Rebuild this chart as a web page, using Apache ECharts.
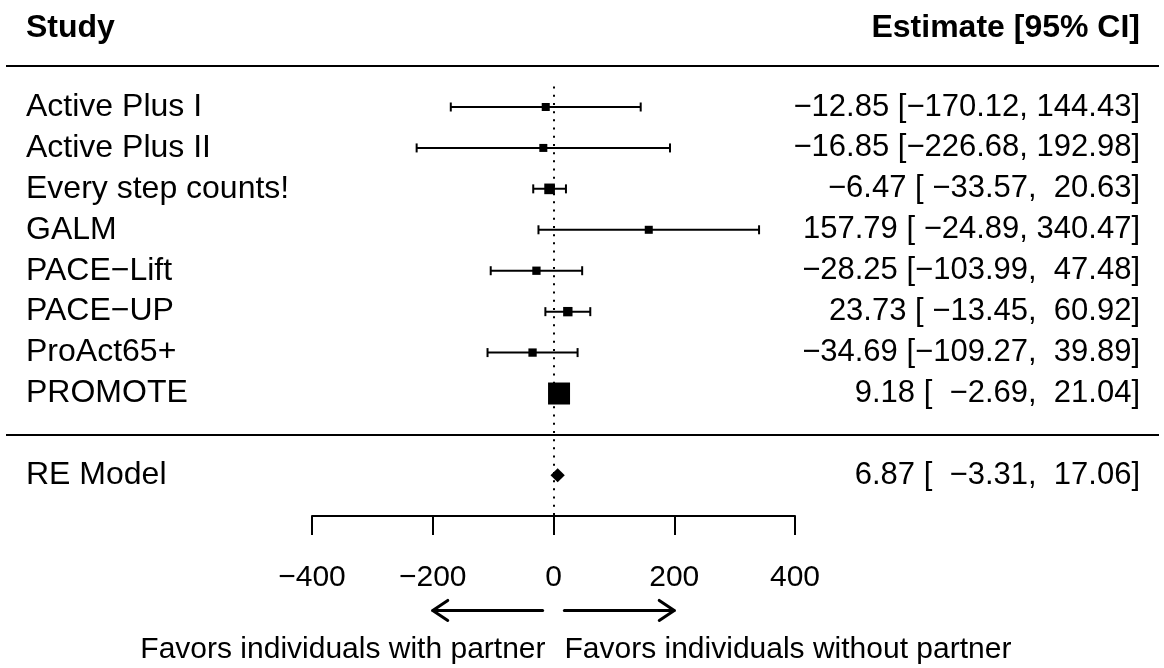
<!DOCTYPE html>
<html>
<head>
<meta charset="utf-8">
<script src="https://cdn.jsdelivr.net/npm/echarts@6/dist/echarts.min.js"></script>
<style>
  html, body { margin: 0; padding: 0; background: #fff; }
  #chart { width: 1164px; height: 668px; }
</style>
</head>
<body>
<div id="chart"></div>
<script>
// data
const studies = ['Active Plus I', 'Active Plus II', 'Every step counts!', 'GALM', 'PACE\u2212Lift', 'PACE\u2212UP', 'ProAct65+', 'PROMOTE']
const estimates = [-12.85, -16.85, -6.47, 157.79, -28.25, 23.73, -34.69, 9.18]
const ciLower = [-170.12, -226.68, -33.57, -24.89, -103.99, -13.45, -109.27, -2.69]
const ciUpper = [144.43, 192.98, 20.63, 340.47, 47.48, 60.92, 39.89, 21.04]
const weights = [0.42, 0.24, 14.13, 0.31, 1.81, 7.48, 1.86, 73.75] // %, sets square size
const reLabel = 'RE Model'
const reValues = [6.87, -3.31, 17.06] // estimate, lower, upper
const xTicks = [-400, -200, 0, 200, 400]
const headers = ['Study', 'Estimate [95% CI]']
const favors = ['Favors individuals with partner', 'Favors individuals without partner']
const arrowSpans = [[-18, -200], [18, 200]]

// layout
const W = 1164, H = 668
const FONT = '"Liberation Sans", Arial, Helvetica, sans-serif'
const FS_LAB = 32, FS_EST = 31, FS_AX = 30
const AX_L = 312, AX_R = 795          // pixel x of -400 / 400
const ROW8_Y = 107, ROW_STEP = 40.93  // pixel y of first study row, row spacing
const GL = 6, GR = 5
const TEXT_L = 26, TEXT_R = 1140

const k = studies.length
const pxPerUnit = (AX_R - AX_L) / (xTicks[xTicks.length - 1] - xTicks[0])
const xMin = xTicks[0] - (AX_L - GL) / pxPerUnit
const xMax = xTicks[xTicks.length - 1] + (W - GR - AX_R) / pxPerUnit
const yMax = k + ROW8_Y / ROW_STEP
const yMin = k - (H - ROW8_Y) / ROW_STEP
const axisRow = -2
const axisY = Math.round(ROW8_Y + (k - axisRow) * ROW_STEP)

const minus = (v) => (v < 0 ? '\u2212' : '') + Math.abs(v).toFixed(2)
const pad = (s, n) => ' '.repeat(Math.max(0, n - s.length)) + s
const allEst = estimates.concat([reValues[0]]).map(minus)
const allLo = ciLower.concat([reValues[1]]).map(minus)
const allHi = ciUpper.concat([reValues[2]]).map(minus)
const wEst = Math.max(...allEst.map((s) => s.length))
const wLo = Math.max(...allLo.map((s) => s.length))
const wHi = Math.max(...allHi.map((s) => s.length))
const ciText = (i) => pad(allEst[i], wEst) + ' [' + pad(allLo[i], wLo) + ', ' + pad(allHi[i], wHi) + ']'

const wMin = Math.min(...weights), wMax = Math.max(...weights)
const sqSize = (w) => 8 + (w - wMin) / (wMax - wMin) * (22 - 8)

const studyData = studies.map((s, i) => [ciLower[i], ciUpper[i], estimates[i], k - i, sqSize(weights[i])])
const textData = studies.map((s, i) => [0, k - i, s, ciText(i), 'normal'])
  .concat([[0, -1, reLabel, ciText(k), 'normal'], [0, k + 2, headers[0], headers[1], 'bold']])

const chart = echarts.init(document.getElementById('chart'), null, { renderer: 'canvas' })

chart.setOption({
  animation: false,
  backgroundColor: '#fff',
  grid: [
    { left: GL, right: GR, top: 0, bottom: 0 },
    { left: AX_L, right: W - AX_R, top: axisY - 20, height: 20 },
  ],
  xAxis: [
    { gridIndex: 0, type: 'value', min: xMin, max: xMax, show: false },
    {
      gridIndex: 1, type: 'value', min: xTicks[0], max: xTicks[xTicks.length - 1], interval: 200, position: 'bottom',
      axisLine: { lineStyle: { color: '#000', width: 2 } },
      axisTick: { length: 19, lineStyle: { color: '#000', width: 2 } },
      axisLabel: { color: '#000', fontSize: FS_AX, fontFamily: FONT, margin: 47, formatter: (v) => (v < 0 ? '\u2212' + Math.abs(v) : String(v)) },
      splitLine: { show: false },
    },
  ],
  yAxis: [
    { gridIndex: 0, type: 'value', min: yMin, max: yMax, show: false },
    { gridIndex: 1, type: 'value', show: false },
  ],
  series: [
    {
      // separators and the dotted reference line
      type: 'line', data: [], z: 1, silent: true,
      markLine: {
        silent: true, symbol: 'none', label: { show: false },
        data: [
          { yAxis: k + 1, lineStyle: { color: '#000', width: 2, type: 'solid' } },
          { yAxis: 0, lineStyle: { color: '#000', width: 2, type: 'solid' } },
          [{ coord: [0, k + 0.5], lineStyle: { color: '#000', width: 2, type: [2, 6.2] } }, { coord: [0, axisRow] }],
        ],
      },
    },
    {
      type: 'custom', z: 3, clip: false, silent: true,
      data: studyData,
      renderItem: (params, api) => {
        const y = api.value(3)
        const lo = api.coord([api.value(0), y])
        const hi = api.coord([api.value(1), y])
        const est = api.coord([api.value(2), y])
        const s = api.value(4)
        const ls = { stroke: '#000', lineWidth: 2 }
        return {
          type: 'group',
          children: [
            { type: 'line', shape: { x1: lo[0], y1: lo[1], x2: hi[0], y2: hi[1] }, style: ls },
            { type: 'line', shape: { x1: lo[0], y1: lo[1] - 4.5, x2: lo[0], y2: lo[1] + 4.5 }, style: ls },
            { type: 'line', shape: { x1: hi[0], y1: hi[1] - 4.5, x2: hi[0], y2: hi[1] + 4.5 }, style: ls },
            { type: 'rect', shape: { x: est[0] - s / 2, y: est[1] - s / 2, width: s, height: s }, style: { fill: '#000' } },
          ],
        }
      },
    },
    {
      // RE model diamond
      type: 'custom', z: 3, clip: false, silent: true,
      data: [[reValues[0], reValues[1], reValues[2], -1]],
      renderItem: (params, api) => {
        const y = api.value(3)
        const e = api.coord([api.value(0), y])
        const lo = api.coord([api.value(1), y])
        const hi = api.coord([api.value(2), y])
        return {
          type: 'polygon',
          shape: { points: [[lo[0] - 1, lo[1]], [e[0], e[1] - 7], [hi[0] + 1, hi[1]], [e[0], e[1] + 7]] },
          style: { fill: '#000' },
        }
      },
    },
    {
      // row labels and estimate text
      type: 'custom', z: 4, clip: false, silent: true,
      data: textData,
      renderItem: (params, api) => {
        const p = api.coord([0, api.value(1)])
        const d = textData[params.dataIndex]
        const bold = d[4] === 'bold'
        const st = { fill: '#000', fontFamily: FONT, fontWeight: d[4], verticalAlign: 'middle' }
        const dy = bold ? 3 : 0
        return {
          type: 'group',
          children: [
            { type: 'text', style: Object.assign({ text: d[2], x: TEXT_L, y: p[1] + dy, align: 'left', fontSize: FS_LAB }, st) },
            { type: 'text', style: Object.assign({ text: d[3], x: TEXT_R, y: p[1] + dy, align: 'right', fontSize: bold ? FS_LAB : FS_EST }, st) },
          ],
        }
      },
    },
    {
      // direction arrows and captions
      type: 'custom', z: 4, clip: false, silent: true,
      data: arrowSpans.map((a, i) => [a[0], a[1], i]),
      renderItem: (params, api) => {
        const arrowRow = -4.3, captionRow = -5.25
        const a = api.coord([api.value(0), arrowRow])
        const b = api.coord([api.value(1), arrowRow])
        const i = api.value(2)
        const dir = b[0] > a[0] ? 1 : -1
        const ls = { stroke: '#000', lineWidth: 3, lineCap: 'round', lineJoin: 'round' }
        const c = api.coord([0, captionRow])
        return {
          type: 'group',
          children: [
            { type: 'line', shape: { x1: a[0], y1: a[1], x2: b[0], y2: b[1] }, style: ls },
            { type: 'polyline', shape: { points: [[b[0] - dir * 15, b[1] - 10], [b[0], b[1]], [b[0] - dir * 15, b[1] + 10]] }, style: Object.assign({ fill: 'none' }, ls) },
            {
              type: 'text',
              style: {
                text: favors[i], x: c[0] + (dir < 0 ? -8 : 11), y: c[1], align: dir < 0 ? 'right' : 'left',
                verticalAlign: 'middle', fill: '#000', fontSize: FS_AX, fontFamily: FONT,
              },
            },
          ],
        }
      },
    },
  ],
})
</script>
</body>
</html>
